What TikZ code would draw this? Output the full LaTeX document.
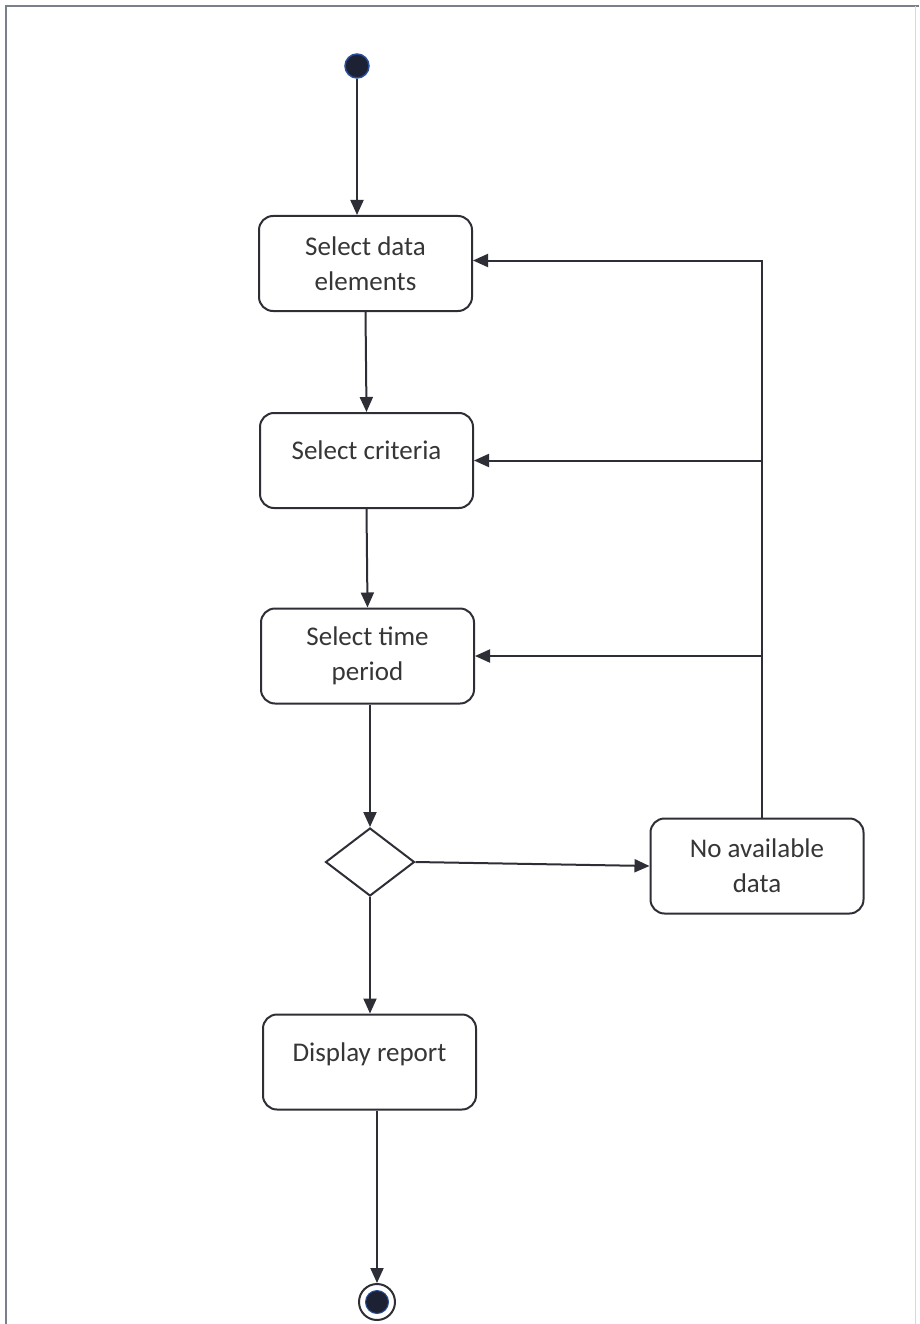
\documentclass[tikz,border=0pt]{standalone}
\usepackage{fontspec}
\setmainfont{Carlito}
\usetikzlibrary{arrows.meta,shapes.geometric}
\definecolor{ink}{HTML}{2E2E36}
\definecolor{txt}{HTML}{363638}
\definecolor{frame}{HTML}{7A7F8C}
\definecolor{dotfill}{HTML}{1C2233}
\definecolor{dotedge}{HTML}{2A4E9A}
\begin{document}
\begin{tikzpicture}[x=1pt,y=-1pt,
  activity/.style={draw=ink, line width=2pt, rounded corners=14pt, fill=white,
    minimum width=213pt, minimum height=95pt, align=center, text=txt,
    font=\fontsize{27}{35}\selectfont, inner sep=2pt},
  oneline/.style={text height=18pt, text depth=20pt},
  decision/.style={draw=ink, line width=2pt, diamond, minimum width=89pt,
    minimum height=68pt, inner sep=0pt},
  flow/.style={draw=ink, line width=2pt, -{Triangle[length=15pt,width=13pt]}},
  link/.style={draw=ink, line width=2pt}]
  \useasboundingbox (0,0) rectangle (919,1324);
  % page frame
  \draw[frame, line width=2pt] (6,1324) -- (6,6) -- (919,6);
  \draw[frame!30, line width=1pt] (915,6) -- (915,1324);

  % initial and final states
  \node[circle, fill=dotfill, draw=dotedge, line width=1.5pt, minimum size=24pt, inner sep=0pt] (start) at (357,66) {};
  \node[circle, draw=ink, line width=2pt, fill=white, minimum size=36pt, inner sep=0pt] (stop) at (377,1302) {};
  \node[circle, fill=dotfill, draw=dotedge, line width=1pt, minimum size=23pt, inner sep=0pt] (stopdot) at (stop) {};

  % activities
  \node[activity] (elements) at (365.5,263.5) {Select data\\elements};
  \node[activity, oneline] (criteria) at (366.5,460.5) {Select criteria};
  \node[activity] (period) at (367.5,656) {Select time\\period};
  \node[decision] (check) at (370,862) {};
  \node[activity] (nodata) at (757,866) {No available\\data};
  \node[activity, oneline] (report) at (369.5,1062) {Display report};

  % main flow
  \draw[flow] (start) -- (start |- elements.north);
  \draw[flow] (elements.south) -- (criteria.north);
  \draw[flow] (criteria.south) -- (period.north);
  \draw[flow] (check.north |- period.south) -- (check.north);
  \draw[flow] (check.east) -- (nodata.west);
  \draw[flow] (check.south) -- (check.south |- report.north);
  \draw[flow] (stop.north |- report.south) -- (stop.north);

  % loop back when no data is available
  \coordinate (back) at ([xshift=5pt]nodata.north);
  \draw[flow] (back) |- ([yshift=3pt]elements.east);
  \draw[flow] (back |- criteria.east) -- (criteria.east);
  \draw[flow] (back |- period.east) -- (period.east);
\end{tikzpicture}
\end{document}
